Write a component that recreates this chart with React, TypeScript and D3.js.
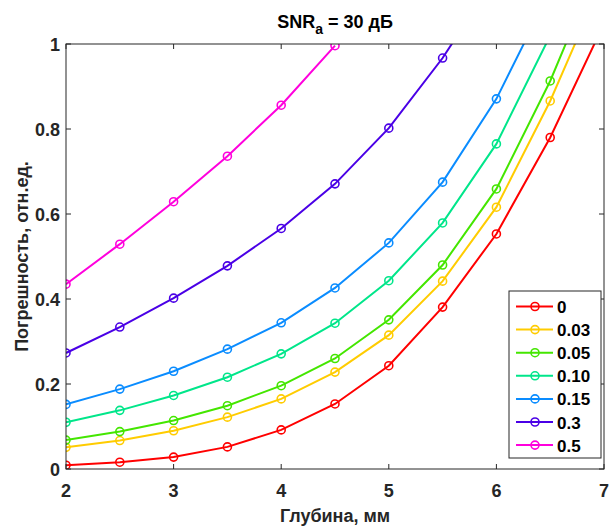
import React from "react";
import * as d3 from "d3";

const depths = [2, 2.5, 3, 3.5, 4, 4.5, 5, 5.5, 6, 6.5, 7];
const seriesNames = ["0", "0.03", "0.05", "0.10", "0.15", "0.3", "0.5"];
const seriesColors = ["#ff0000", "#ffcc00", "#44e600", "#00e68a", "#0a8cff", "#4a00e6", "#ff00dd"];
const s0 = [0.009, 0.016, 0.028, 0.052, 0.092, 0.153, 0.243, 0.381, 0.553, 0.78, 1.048];
const s003 = [0.051, 0.067, 0.09, 0.122, 0.165, 0.228, 0.315, 0.442, 0.616, 0.866, 1.157];
const s005 = [0.068, 0.088, 0.114, 0.149, 0.196, 0.26, 0.351, 0.48, 0.659, 0.913, 1.215];
const s010 = [0.11, 0.138, 0.173, 0.216, 0.271, 0.343, 0.443, 0.579, 0.765, 1.02];
const s015 = [0.152, 0.188, 0.23, 0.282, 0.344, 0.426, 0.532, 0.675, 0.871, 1.125];
const s03 = [0.273, 0.334, 0.402, 0.478, 0.566, 0.671, 0.802, 0.967, 1.161];
const s05 = [0.435, 0.529, 0.629, 0.736, 0.856, 0.996];
const seriesValues = [s0, s003, s005, s010, s015, s03, s05];
const xTicks = [2, 3, 4, 5, 6, 7];
const yTicks = [0, 0.2, 0.4, 0.6, 0.8, 1];
const yTickLabels = ["0", "0.2", "0.4", "0.6", "0.8", "1"];

const W = 613, H = 527;
const L = 66, R = 604, T = 44, B = 469;
const FONT = "'Liberation Sans', Arial, Helvetica, sans-serif";
const AX = "#262626";

export default function App() {
  const x = d3.scaleLinear().domain([2, 7]).range([L, R]);
  const y = d3.scaleLinear().domain([0, 1]).range([B, T]);
  const line = d3.line<[number, number]>().x(d => x(d[0])).y(d => y(d[1]));

  const legX = 509, legY = 291, legW = 92, legH = 167, legStep = 23.1;

  return (
    <svg width={W} height={H} style={{ position: "absolute", left: 0, top: 0 }} fontFamily={FONT}>
      <rect x={0} y={0} width={W} height={H} fill="#fff" />
      <defs>
        <clipPath id="plotclip">
          <rect x={L} y={T} width={R - L} height={B - T} />
        </clipPath>
      </defs>
      <rect x={L} y={T} width={R - L} height={B - T} fill="#fff" />
      <g clipPath="url(#plotclip)">
        {seriesValues.map((vals, i) => {
          const pts = vals.map((v, j) => [depths[j], v] as [number, number]);
          return (
            <g key={i}>
              <path d={line(pts) || ""} fill="none" stroke={seriesColors[i]} strokeWidth={2} />
              {pts.map((p, j) => (
                <circle key={j} cx={x(p[0])} cy={y(p[1])} r={4} fill="none" stroke={seriesColors[i]} strokeWidth={1.6} />
              ))}
            </g>
          );
        })}
      </g>
      {/* box */}
      <rect x={L} y={T} width={R - L} height={B - T} fill="none" stroke={AX} strokeWidth={1} />
      {xTicks.map((t, i) => (
        <g key={"x" + i}>
          <line x1={x(t)} x2={x(t)} y1={B} y2={B - 5} stroke={AX} />
          <line x1={x(t)} x2={x(t)} y1={T} y2={T + 5} stroke={AX} />
          <text x={x(t)} y={B + 28} textAnchor="middle" fontSize={18} fontWeight="bold" fill="#262626">{t}</text>
        </g>
      ))}
      {yTicks.map((t, i) => (
        <g key={"y" + i}>
          <line x1={L} x2={L + 5} y1={y(t)} y2={y(t)} stroke={AX} />
          <line x1={R} x2={R - 5} y1={y(t)} y2={y(t)} stroke={AX} />
          <text x={L - 6} y={y(t) + 6.5} textAnchor="end" fontSize={18} fontWeight="bold" fill="#262626">{yTickLabels[i]}</text>
        </g>
      ))}
      <text x={(L + R) / 2} y={28} textAnchor="middle" fontSize={18} fontWeight="bold" fill="#000">
        SNR<tspan fontSize={14} dy={6}>a</tspan><tspan dy={-6}> = 30 дБ</tspan>
      </text>
      <text x={(L + R) / 2} y={522} textAnchor="middle" fontSize={18} fontWeight="bold" fill="#262626">Глубина, мм</text>
      <text transform={`translate(28,${(T + B) / 2}) rotate(-90)`} textAnchor="middle" fontSize={18} fontWeight="bold" fill="#262626">Погрешность, отн.ед.</text>
      {/* legend */}
      <rect x={legX} y={legY} width={legW} height={legH} fill="#fff" stroke={AX} strokeWidth={1} />
      {seriesNames.map((n, i) => {
        const cy = legY + 15.5 + i * legStep;
        return (
          <g key={"l" + i}>
            <line x1={legX + 7} x2={legX + 44} y1={cy} y2={cy} stroke={seriesColors[i]} strokeWidth={2} />
            <circle cx={legX + 26} cy={cy} r={4} fill="none" stroke={seriesColors[i]} strokeWidth={1.6} />
            <text x={legX + 48} y={cy + 6.5} fontSize={17} fontWeight="bold" fill="#000">{n}</text>
          </g>
        );
      })}
    </svg>
  );
}
